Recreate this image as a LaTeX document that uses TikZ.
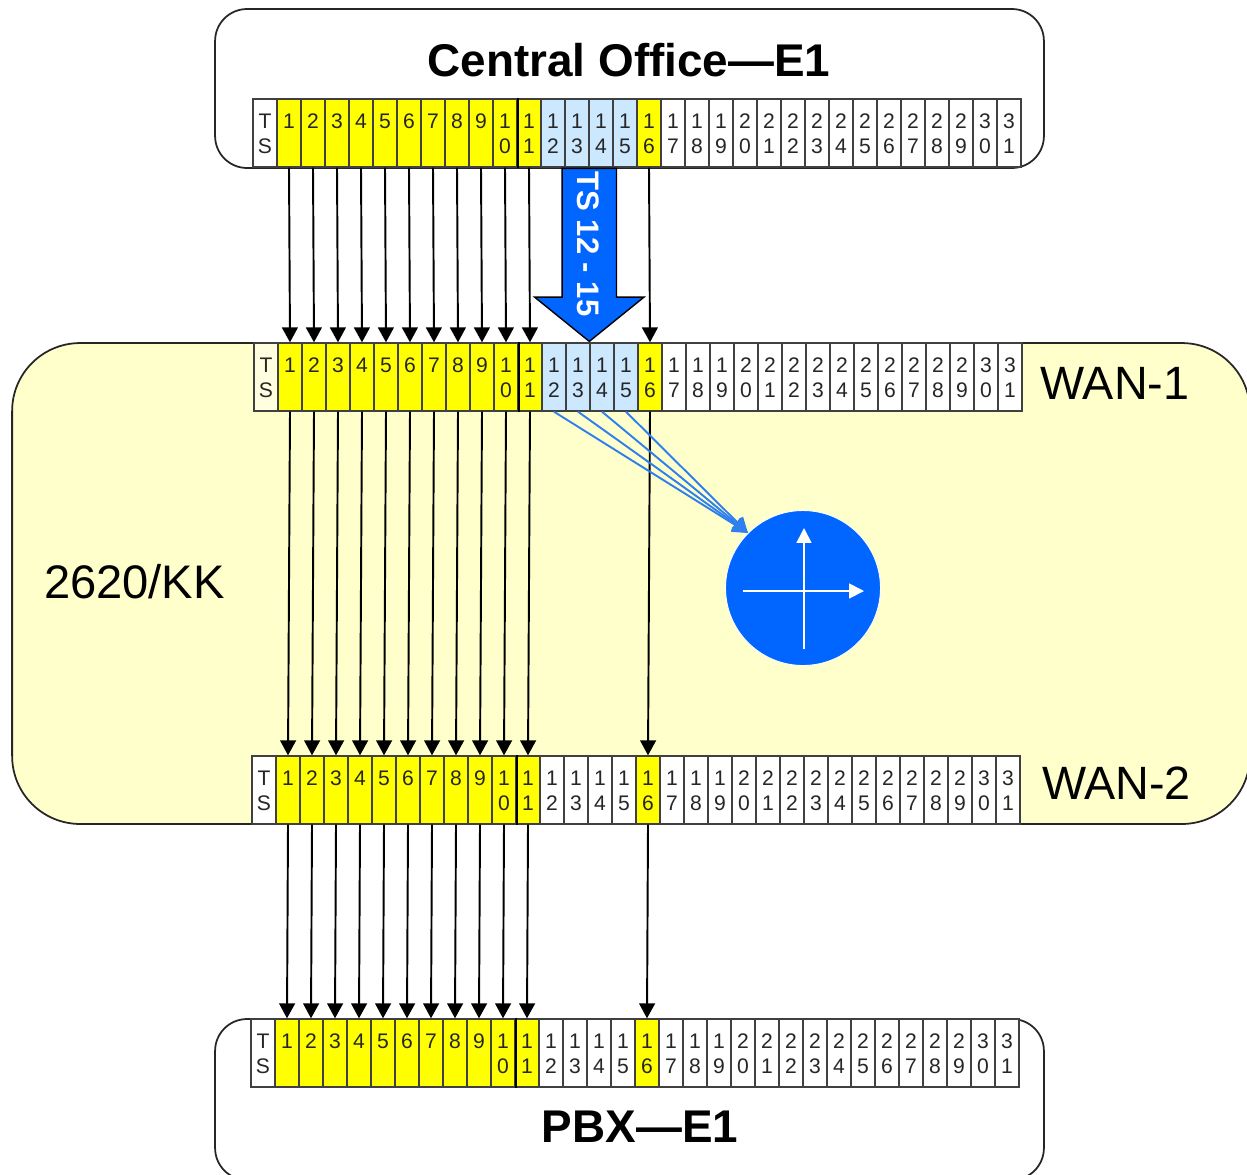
\documentclass[tikz,border=0pt]{standalone}
\usepackage{fontspec}
\setmainfont{Liberation Sans}
\usetikzlibrary{arrows.meta,shapes.arrows}
\definecolor{tsblue}{HTML}{CCE8FF}
\definecolor{cream}{HTML}{FFFFCC}
\definecolor{palecream}{HTML}{FFFFE0}
\definecolor{slotyellow}{HTML}{FFFF00}
\definecolor{qamblue}{HTML}{0066FF}
\definecolor{wireblue}{HTML}{2F7FEF}
\definecolor{slotline}{HTML}{404040}
\newcommand{\slotstrut}{\rule[-.8pt]{0pt}{10.8pt}}
\tikzset{
	slot/.style={draw=slotline, line width=.8pt, text=black!85, minimum width=.48cm, minimum height=1.36cm, inner sep=0pt, align=center, font=\fontsize{12}{14.2}\selectfont},
	box/.style={draw=black!85, line width=1pt, inner sep=0pt, rounded corners=.64cm, minimum width=16.58cm},
	sig/.style={line width=1.1pt, -{Triangle[width=9pt,length=8.5pt]}},
	wire/.style={draw=wireblue, line width=1.1pt, -{Triangle[width=9pt,length=8.5pt]}},
	axis/.style={draw=white, line width=1pt, -{Triangle[width=8.5pt,length=8.5pt]}},
	title/.style={font=\fontsize{26.1}{30}\selectfont\bfseries, inner sep=0pt},
	port/.style={font=\fontsize{26.6}{30}\selectfont, inner sep=0pt}
}
\begin{document}
\begin{tikzpicture}[x=.02cm, y=-.02cm]
	\useasboundingbox (0,0) rectangle (1247,1174);
	\clip (0,0) rectangle (1247,1174);
	\node[box, minimum height=3.18cm] (co) at (629.5,88.5) {};
	\node[box, fill=cream, rounded corners=1.36cm, minimum width=24.76cm, minimum height=9.62cm] (kk) at (631,583.5) {};
	\node[box, minimum height=3.22cm] (pbx) at (629.5,1099.5) {};
	\node[title] (cotitle) at (629,60) {Central Office—E1};
	\node[title] (pbxtitle) at (640,1127) {PBX—E1};
	\node[port] (wan1) at (1115,383) {WAN-1};
	\node[port] (wan2) at (1116.5,783) {WAN-2};
	\node[port, font=\fontsize{26.8}{30}\selectfont] (router) at (134.5,582) {2620/KK};
	% one row of slots per port
	\foreach \r/\x/\y/\m/\n in {a/253/133/tsblue/white, b/254/377/tsblue/palecream, c/252/790/white/white, d/251/1053/white/white}{
		\foreach \i in {0,...,31}{
			\pgfmathsetmacro\cx{\x+24*\i+12}
			\pgfmathtruncatemacro\tn{int(\i/10)}
			\pgfmathtruncatemacro\un{mod(\i,10)}
			\def\cc{white}
			\ifnum\i=0 \def\cc{\n}\fi
			\ifnum\i>0 \ifnum\i<12 \def\cc{slotyellow}\fi\fi
			\ifnum\i>11 \ifnum\i<16 \def\cc{\m}\fi\fi
			\ifnum\i=16 \def\cc{slotyellow}\fi
			\ifnum\i<10 \def\lbl{\slotstrut\i\\\slotstrut}\else \def\lbl{\slotstrut\tn\\\slotstrut\un}\fi
			\ifnum\i=0 \def\lbl{\slotstrut T\\\slotstrut S}\fi
			\node[slot, fill=\cc] (\r\i) at (\cx,\y) {\lbl};
		}
		\draw[line width=1.3pt] (\r10.north east)--(\r10.south east);
	}
	\foreach \i in {1,...,11,16}{
		\draw[sig] (a\i.south)--(b\i.north);
		\draw[sig] (b\i.south)--(c\i.north);
		\draw[sig] (c\i.south)--(d\i.north);
	}
	\node[single arrow, rotate=-90, anchor=tip, draw=black, line width=.8pt, fill=qamblue, inner xsep=0pt, inner ysep=.53cm, minimum height=3.46cm, single arrow head extend=.55cm, single arrow head indent=0pt, single arrow tip angle=102] (tsarrow) at (b14.north west) {};
	\node[rotate=-90, text=white, inner sep=0pt, font=\fontsize{17.7}{20}\selectfont\bfseries] (tslabel) at (588,244) {TS 12 - 15};
	% constellation
	\node[circle, fill=qamblue, draw=white, line width=.5pt, minimum size=3.1cm, inner sep=0pt] (qam) at (803,588) {};
	\foreach \i in {12,...,15}{
		\draw[wire] (b\i.south)--(qam.135);
	}
	\coordinate (xfrom) at (743,591);
	\coordinate (xto) at (864,591);
	\coordinate (yfrom) at (804,649);
	\coordinate (yto) at (804,528);
	\draw[axis] (xfrom)--(xto);
	\draw[axis] (yfrom)--(yto);
\end{tikzpicture}
\end{document}
